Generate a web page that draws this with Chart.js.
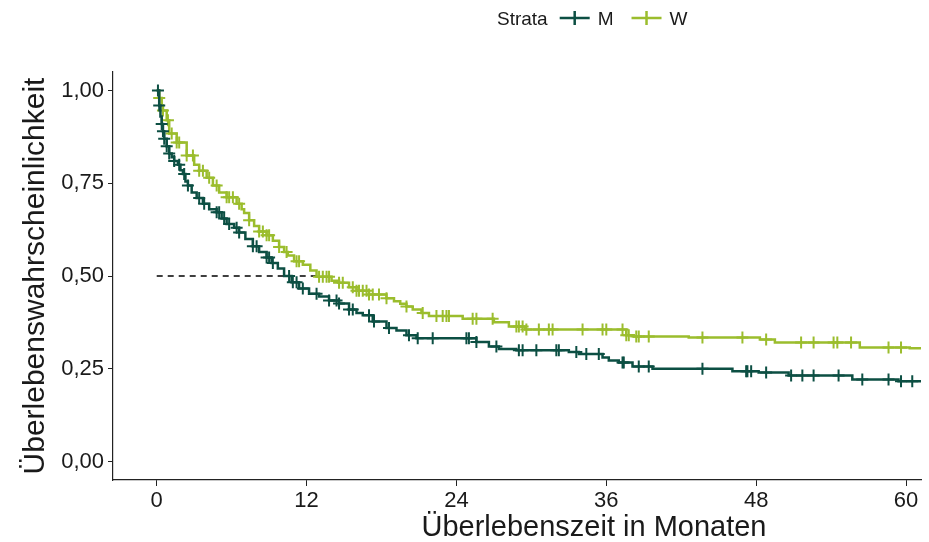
<!DOCTYPE html>
<html lang="de">
<head>
    <meta charset="UTF-8">
    <title>Kaplan-Meier</title>
    <style>
        html, body { margin: 0; padding: 0; background: #fff; }
        #wrap { width: 929px; height: 542px; }
    </style>
</head>
<body>
<div id="wrap">
    <canvas id="chart" width="929" height="542"></canvas>
</div>
<script src="https://cdn.jsdelivr.net/npm/chart.js@4/dist/chart.umd.min.js"></script>
<script>
    'use strict';

    // Strata M: Zeitpunkte (Monate) und Überlebenswahrscheinlichkeit
    var mTime = [0, 0.2, 0.3, 0.4, 0.5, 0.6, 0.8, 1.0, 1.2, 1.4, 1.7, 1.9, 2.1, 2.3, 2.5, 2.8, 3.2, 3.7, 4.2, 4.8,
        5.2, 5.6, 6.2, 6.6, 7.1, 7.7, 8.2, 8.8, 9.2, 9.7, 10.2, 10.8, 11.4, 12.2, 13.0, 13.8, 14.6, 15.4, 16.0, 16.5,
        17.3, 18.4, 19.2, 20.0, 20.8, 25.6, 26.6, 27.4, 28.8, 33.0, 33.8, 35.7, 36.2, 37.0, 38.1, 39.7, 46.1, 48.2,
        50.6, 55.7, 59.4, 61.5];
    var mSurv = [1.0, 0.96, 0.93, 0.91, 0.89, 0.87, 0.85, 0.83, 0.82, 0.81, 0.80, 0.785, 0.775, 0.755, 0.744, 0.725,
        0.71, 0.695, 0.68, 0.672, 0.655, 0.64, 0.63, 0.617, 0.60, 0.58, 0.565, 0.55, 0.535, 0.52, 0.50, 0.483, 0.466,
        0.452, 0.445, 0.434, 0.426, 0.41, 0.40, 0.394, 0.377, 0.36, 0.353, 0.34, 0.332, 0.322, 0.31, 0.303, 0.30,
        0.295, 0.29, 0.28, 0.272, 0.267, 0.256, 0.25, 0.243, 0.24, 0.232, 0.221, 0.216, 0.216];
    // zensierte Beobachtungen M
    var mCens = [0.1, 0.2, 0.4, 0.5, 0.6, 0.8, 1.0, 1.4, 1.8, 2.2, 2.5, 3.4, 3.8, 4.8, 5.0, 5.4, 5.8, 6.4, 6.6, 7.7,
        8.0, 8.8, 9.0, 9.3, 10.6, 10.9, 11.2, 11.7, 12.8, 13.8, 14.4, 14.6, 15.4, 15.7, 17.0, 17.4, 18.6, 20.2, 20.9,
        22.1, 24.8, 25.0, 25.6, 27.2, 29.0, 29.3, 30.4, 32.0, 32.2, 33.6, 34.4, 35.4, 37.3, 37.4, 38.6, 39.4, 43.7,
        47.2, 47.3, 47.6, 48.8, 50.8, 51.7, 52.6, 54.6, 56.5, 58.6, 59.6, 60.5];

    // Strata W
    var wTime = [0, 0.2, 0.4, 0.5, 0.8, 1.0, 1.6, 2.4, 3.0, 3.4, 4.0, 4.5, 5.0, 5.6, 6.4, 6.8, 7.0, 7.4, 7.8, 8.2,
        8.8, 9.3, 9.8, 10.2, 10.5, 11.0, 11.7, 12.3, 12.8, 14.0, 14.6, 15.4, 16.0, 17.0, 18.4, 19.0, 19.5, 20.0, 20.5,
        21.2, 21.8, 24.5, 27.0, 28.2, 29.5, 37.6, 38.2, 42.6, 48.3, 49.5, 56.3, 60.3, 61.5];
    var wSurv = [1.0, 0.98, 0.96, 0.946, 0.92, 0.884, 0.86, 0.825, 0.80, 0.784, 0.765, 0.744, 0.725, 0.712, 0.695,
        0.68, 0.67, 0.65, 0.635, 0.62, 0.61, 0.595, 0.578, 0.565, 0.555, 0.54, 0.53, 0.515, 0.498, 0.487, 0.482,
        0.47, 0.46, 0.45, 0.44, 0.432, 0.425, 0.418, 0.41, 0.40, 0.392, 0.385, 0.375, 0.364, 0.356, 0.34, 0.337,
        0.334, 0.329, 0.321, 0.307, 0.305, 0.305];
    var wCens = [0.2, 0.5, 0.9, 1.2, 1.6, 1.8, 2.4, 2.9, 3.4, 3.7, 4.2, 4.8, 5.6, 5.8, 6.1, 6.6, 7.4, 8.2, 8.5, 8.8,
        9.0, 9.8, 10.4, 11.2, 11.4, 13.0, 13.3, 13.6, 13.8, 14.6, 14.9, 15.7, 16.0, 16.2, 16.5, 16.8, 17.0, 17.3,
        17.8, 18.4, 20.0, 21.3, 22.4, 22.9, 23.2, 23.4, 25.3, 25.6, 26.9, 28.8, 29.0, 29.3, 29.6, 30.6, 31.4, 31.7,
        34.1, 35.7, 36.0, 37.3, 37.6, 37.8, 38.4, 38.6, 39.4, 43.7, 46.9, 48.8, 51.6, 52.6, 54.2, 54.5, 55.6, 58.6,
        59.6];

    var medianTime = 12.8;   // mediane Überlebenszeit (W), Linie bei 0,5
    var medianLevel = 0.5;

    var xTicks = [0, 12, 24, 36, 48, 60];
    var yTicks = [0, 0.25, 0.5, 0.75, 1.0];
    var strata = ['M', 'W'];

    var colM = '#0c4f43';
    var colW = '#9bbd2d';
    var fontFam = "'Liberation Sans', Arial, sans-serif";

    function toPoints(t, s) {
        return t.map(function (v, i) { return {x: v, y: s[i]}; });
    }

    // Wert der Treppenfunktion zum Zeitpunkt t
    function stepAt(t, times, surv) {
        var y = surv[0];
        for (var i = 0; i < times.length; i++) {
            if (times[i] <= t) y = surv[i];
        }
        return y;
    }

    function censPoints(cens, times, surv) {
        return cens.map(function (t) { return {x: t, y: stepAt(t, times, surv)}; });
    }

    // Legende und x-Achsentitel selbst zeichnen
    var extras = {
        id: 'extras',
        afterDraw: function (chart) {
            var c = chart.ctx;
            c.save();
            // x-Titel
            c.fillStyle = '#1a1a1a';
            c.font = '29px ' + fontFam;
            c.textAlign = 'center';
            c.textBaseline = 'alphabetic';
            c.fillText('Überlebenszeit in Monaten', 594, 536);

            // Legende
            c.font = '19px ' + fontFam;
            c.textAlign = 'left';
            var x = 497, y = 25;
            c.fillText('Strata', x, y);
            x += c.measureText('Strata').width + 12;
            var cols = [colM, colW];
            strata.forEach(function (name, i) {
                c.strokeStyle = cols[i];
                c.lineWidth = 2.5;
                c.beginPath();
                c.moveTo(x, y - 7); c.lineTo(x + 30, y - 7);
                c.moveTo(x + 15, y - 14); c.lineTo(x + 15, y);
                c.stroke();
                x += 38;
                c.fillText(name, x, y);
                x += c.measureText(name).width + 18;
            });
            c.restore();
        }
    };

    var ctx = document.getElementById('chart');
    var chart = new Chart(ctx, {
        type: 'line',
        data: {
            datasets: [{
                label: 'M',
                data: toPoints(mTime, mSurv),
                borderColor: colM,
                borderWidth: 2.5,
                stepped: true,
                pointRadius: 0,
                fill: false
            }, {
                label: 'M zensiert',
                data: censPoints(mCens, mTime, mSurv),
                showLine: false,
                pointStyle: 'cross',
                pointRadius: 6,
                borderColor: colM,
                pointBorderWidth: 2
            }, {
                label: 'W',
                data: toPoints(wTime, wSurv),
                borderColor: colW,
                borderWidth: 2.5,
                stepped: true,
                pointRadius: 0,
                fill: false
            }, {
                label: 'W zensiert',
                data: censPoints(wCens, wTime, wSurv),
                showLine: false,
                pointStyle: 'cross',
                pointRadius: 6,
                borderColor: colW,
                pointBorderWidth: 2
            }, {
                label: 'Median',
                data: [{x: 0, y: medianLevel}, {x: medianTime, y: medianLevel}],
                borderColor: '#000',
                borderWidth: 1.3,
                borderDash: [6, 5],
                pointRadius: 0
            }]
        },
        options: {
            responsive: false,
            animation: false,
            layout: {padding: {top: 72, right: 7, left: 0, bottom: 0}},
            plugins: {legend: {display: false}, tooltip: {enabled: false}},
            scales: {
                x: {
                    type: 'linear',
                    min: -3.5,
                    max: 61.2,
                    afterFit: function (s) { s.height = 62; },
                    afterBuildTicks: function (s) {
                        s.ticks = xTicks.map(function (v) { return {value: v}; });
                    },
                    grid: {drawOnChartArea: false, tickLength: 6, color: '#222', lineWidth: 1},
                    border: {display: true, color: '#222', width: 1.2},
                    ticks: {
                        color: '#1a1a1a',
                        font: {family: fontFam, size: 22},
                        padding: 2,
                        maxRotation: 0
                    }
                },
                y: {
                    min: -0.05,
                    max: 1.05,
                    afterFit: function (s) { s.width = 113; },
                    afterBuildTicks: function (s) {
                        s.ticks = yTicks.map(function (v) { return {value: v}; });
                    },
                    grid: {drawOnChartArea: false, tickLength: 5, color: '#222', lineWidth: 1},
                    border: {display: true, color: '#222', width: 1.2},
                    ticks: {
                        color: '#1a1a1a',
                        font: {family: fontFam, size: 22},
                        padding: 4,
                        callback: function (v) { return v.toFixed(2).replace('.', ','); }
                    },
                    title: {
                        display: true,
                        text: 'Überlebenswahrscheinlichkeit',
                        color: '#1a1a1a',
                        font: {family: fontFam, size: 30},
                        padding: {top: 18, bottom: 0}
                    }
                }
            }
        },
        plugins: [extras]
    });
</script>
</body>
</html>
